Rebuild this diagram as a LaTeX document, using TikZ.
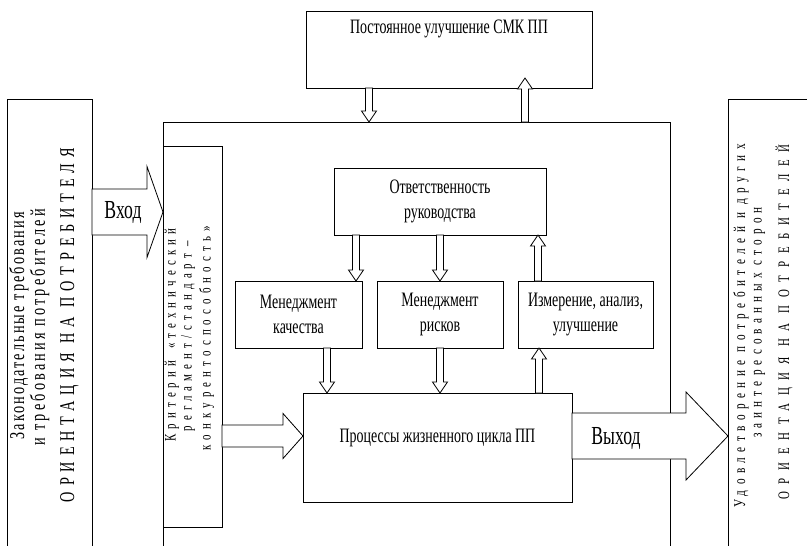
\documentclass[tikz,border=0pt]{standalone}
\usepackage{fontspec}
\setmainfont{Liberation Serif}
\newfontfamily\condf[FakeStretch=0.68]{Liberation Serif}
\usetikzlibrary{calc}
\tikzset{
  box/.style={draw, line width=1pt, inner sep=0pt, outer sep=0pt, anchor=north west},
  lbl/.style={font=\condf\fontsize{20.5}{25}\selectfont, align=center, inner sep=0pt},
  biglbl/.style={font=\condf\fontsize{26}{28}\selectfont, inner sep=0pt},
  rlbl/.style n args={2}{font={\condf\fontsize{#1}{#1}\selectfont\addfontfeature{LetterSpace=#2}},
    rotate=90, anchor=base, inner sep=0pt},
  blk/.style={draw, fill=white, line width=0.8pt, line join=miter},
}
\newcommand\vblk[2]{\draw[blk] let \p1=(#1), \p2=(#2), \n1={sign(\y1-\y2)*11} in
  ({\x1-3.5pt},\y1) -- ({\x1-3.5pt},{\y2+\n1*1pt}) -- ({\x1-7.5pt},{\y2+\n1*1pt}) -- (\x1,\y2)
  -- ({\x1+7.5pt},{\y2+\n1*1pt}) -- ({\x1+3.5pt},{\y2+\n1*1pt}) -- ({\x1+3.5pt},\y1) -- cycle;}
\newcommand\hblk[5]{\draw[blk] let \p1=(#1), \p2=(#2) in
  (\x1,{\y2+#3}) -- ({\x2-#5},{\y2+#3}) -- ({\x2-#5},{\y2+#4}) -- (\x2,\y2)
  -- ({\x2-#5},{\y2-#4}) -- ({\x2-#5},{\y2-#3}) -- (\x1,{\y2-#3}) -- cycle;}
\begin{document}
\begin{tikzpicture}[x=1pt,y=-1pt]
\useasboundingbox (0,0) rectangle (807,546);
\fill[white] (0,0) rectangle (807,546);
\clip (0,0) rectangle (807,546);

% boxes
\node[box, minimum width=85, minimum height=470] (lbox) at (7,99) {};
\node[box, minimum width=120, minimum height=470] (rbox) at (728,99) {};
\node[box, minimum width=507, minimum height=440] (frame) at (163,122) {};
\node[box, minimum width=286, minimum height=77] (topb) at (306,11) {};
\node[box, minimum width=59, minimum height=381] (crit) at (163,146) {};
\node[box, minimum width=212, minimum height=67] (resp) at (334,168) {};
\node[box, minimum width=127, minimum height=67] (b1) at (235,281) {};
\node[box, minimum width=126, minimum height=67] (b2) at (377,281) {};
\node[box, minimum width=135, minimum height=67] (b3) at (518,281) {};
\node[box, minimum width=269, minimum height=109] (proc) at (303,393) {};

% helper coordinates
\coordinate (xa) at (369,0);
\coordinate (xb) at (525,0);
\coordinate (xc) at (356,0);
\coordinate (xd) at (440,0);
\coordinate (xe) at (538,0);
\coordinate (xf) at (327,0);
\coordinate (xg) at (539,0);
\coordinate (yin) at (0,212);
\coordinate (yp) at (0,436);
\coordinate (tipb) at ($(xb |- topb.south)+(0,-10)$);

% block arrows
\vblk{xa |- topb.south}{xa |- frame.north}
\vblk{xb |- frame.north}{tipb}
\vblk{xc |- resp.south}{xc |- b1.north}
\vblk{xd |- resp.south}{xd |- b2.north}
\vblk{xe |- b3.north}{xe |- resp.south}
\vblk{xf |- b1.south}{xf |- proc.north}
\vblk{xd |- b2.south}{xd |- proc.north}
\vblk{xg |- proc.north}{xg |- b3.south}
\hblk{lbox.east |- yin}{frame.west |- yin}{23pt}{45.5pt}{16pt}
\hblk{crit.east |- yp}{proc.west |- yp}{11pt}{22.5pt}{20pt}
\hblk{proc.east |- yp}{rbox.west |- yp}{23pt}{44pt}{42pt}

% horizontal texts
\node[lbl, anchor=base] (toptxt) at ($(topb.north)+(0,22)$) {Постоянное улучшение СМК ПП};
\node[lbl] (resptxt) at (resp.center) {Ответственность\\руководства};
\node[lbl] (b1txt) at (b1.center) {Менеджмент\\качества};
\node[lbl] (b2txt) at (b2.center) {Менеджмент\\рисков};
\node[lbl] (b3txt) at (b3.center) {Измерение, анализ,\\улучшение};
\node[lbl] (proctxt) at ($(proc.center)+(0,-10)$) {Процессы жизненного цикла ПП};
\node[biglbl] (intxt) at (123,212) {Вход};
\node[biglbl] (outtxt) at (616,438) {Выход};

% rotated texts
\node[rlbl={21}{10}] (l1) at (24,326) {Законодательные требования};
\node[rlbl={21}{15}] (l2) at (45,327) {и требования потребителей};
\node[rlbl={21}{28}] (l3) at (74,325) {ОРИЕНТАЦИЯ НА ПОТРЕБИТЕЛЯ};
\node[rlbl={16}{32}] (c1) at (175.5,335) {Критерий\hspace{4pt} «технический};
\node[rlbl={16}{32}] (c2) at (191.5,336) {регламент/стандарт –};
\node[rlbl={16}{32}] (c3) at (210.5,338) {конкурентоспособность»};
\node[rlbl={16.5}{33}] (r1) at (745,326) {Удовлетворение потребителей и других};
\node[rlbl={16.5}{31}] (r2) at (761.5,322.5) {заинтересованных сторон};
\node[rlbl={16}{48}] (r3) at (789,322) {ОРИЕНТАЦИЯ НА ПОТРЕБИТЕЛЕЙ};
\end{tikzpicture}
\end{document}
